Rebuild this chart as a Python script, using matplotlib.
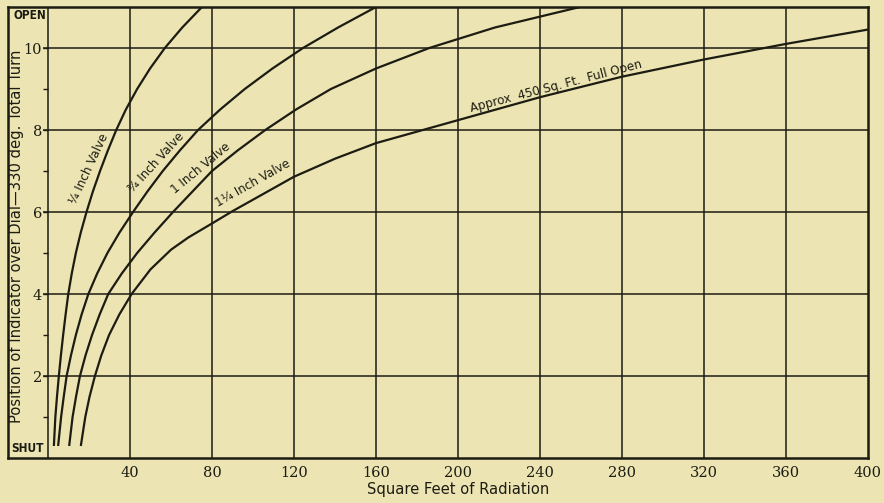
import os
import matplotlib
matplotlib.use("Agg")
import matplotlib.pyplot as plt
from matplotlib import font_manager
from matplotlib.font_manager import FontProperties
from matplotlib import transforms

# Valve opening curves: square feet of radiation vs. dial position (0 = shut, 11 = open)
quarter_x = [2.9, 3.6, 4.4, 5.3, 6.3, 7.4, 8.6, 9.9, 11.6, 13.6, 16.0, 18.8, 21.9,
             25.4, 29.2, 33.3, 38.0, 43.5, 49.8, 57.0, 65.5, 75.1]
quarter_y = [0.32, 1, 1.5, 2, 2.5, 3, 3.5, 4, 4.5, 5, 5.5, 6, 6.5,
             7, 7.5, 8, 8.5, 9, 9.5, 10, 10.5, 11]

three_quarter_x = [5.0, 6.4, 7.7, 9.1, 11.2, 13.6, 16.4, 19.7, 24.0, 29.0, 34.9, 41.5,
                   48.5, 56.0, 64.3, 73.2, 84.0, 96.0, 109.5, 124.4, 141.5, 160.0]
three_quarter_y = [0.32, 1, 1.5, 2, 2.5, 3, 3.5, 4, 4.5, 5, 5.5, 6,
                   6.5, 7, 7.5, 8, 8.5, 9, 9.5, 10, 10.5, 11]

one_x = [10.4, 12.0, 13.7, 15.6, 18.3, 21.5, 25.2, 29.4, 36.0, 43.5, 52.0, 61.0,
         70.5, 80.0, 92.5, 106.0, 121.0, 138.0, 160.0, 186.0, 218.0, 259.5]
one_y = [0.32, 1, 1.5, 2, 2.5, 3, 3.5, 4, 4.5, 5, 5.5, 6,
         6.5, 7, 7.5, 8, 8.5, 9, 9.5, 10, 10.5, 11]

one_quarter_x = [16.1, 18.2, 20.3, 22.9, 26.0, 29.8, 34.8, 40.8, 50.0, 60.0, 68.5,
                 80.0, 90.0, 100, 120, 140, 160, 200, 240, 280, 320, 360, 400]
one_quarter_y = [0.32, 1, 1.5, 2, 2.5, 3, 3.5, 4, 4.6, 5.08, 5.38,
                 5.72, 6.02, 6.3, 6.86, 7.3, 7.68, 8.24, 8.8, 9.3, 9.72, 10.1, 10.45]

x_ticks = [40, 80, 120, 160, 200, 240, 280, 320, 360, 400]
y_ticks = [2, 4, 6, 8, 10]
y_tick_labels = ["2", "4", "6", "8", "10"]

BG = "#ece4b3"
INK = "#1c1c12"


def narrow_font(size, bold=False):
    """Condensed sans face for the lettering, falling back to Roboto."""
    want = "dejavusanscondensed-bold.ttf" if bold else "dejavusanscondensed.ttf"
    for f in font_manager.fontManager.ttflist:
        if os.path.basename(f.fname).lower() == want:
            return FontProperties(fname=f.fname, size=size)
    for f in font_manager.fontManager.ttflist:
        fn = os.path.basename(f.fname).lower()
        if ("narrow" in fn or "condensed" in fn) and "sans" in fn and \
                ("bold" in fn) == bold and "italic" not in fn and "oblique" not in fn:
            return FontProperties(fname=f.fname, size=size)
    return FontProperties(family="Roboto", size=size, weight="bold" if bold else "normal")


serif = FontProperties(family="DejaVu Serif", size=10.5)

fig = plt.figure(figsize=(8.84, 5.03), dpi=100, facecolor=BG)
W, H = 884, 503
ax = fig.add_axes([8 / W, (H - 458) / H, (868 - 8) / W, (458 - 7) / H])
ax.set_facecolor(BG)

X_LEFT = -19.5
ax.set_xlim(X_LEFT, 400)
ax.set_ylim(0, 11)

for s in ax.spines.values():
    s.set_linewidth(1.8)
    s.set_color(INK)

# grid: vertical lines every 40 sq ft, horizontal every 2 divisions
ax.vlines([0] + x_ticks[:-1], 0, 11, color=INK, lw=1.1, zorder=1)
ax.hlines(y_ticks, -2.4, 400, color=INK, lw=1.1, zorder=1)
ax.hlines(range(1, 11), -2.4, 0, color=INK, lw=1.0, zorder=1)

# curves
for xs, ys in [(quarter_x, quarter_y), (three_quarter_x, three_quarter_y),
               (one_x, one_y), (one_quarter_x, one_quarter_y)]:
    ax.plot(xs, ys, color=INK, lw=1.6, solid_joinstyle="round", zorder=3)

# ticks
ax.set_xticks(x_ticks)
ax.set_xticklabels([str(v) for v in x_ticks], fontproperties=serif, color=INK)
ax.tick_params(axis="x", length=0, pad=6)
ax.set_yticks(y_ticks)
ax.set_yticklabels(y_tick_labels, fontproperties=serif, color=INK)
ax.tick_params(axis="y", length=0, pad=-24.5)

# end-of-travel labels in the scale column
ax.text(-16.8, 10.8, "OPEN", fontproperties=narrow_font(8.5, bold=True),
        color=INK, ha="left", va="center")
ax.text(-18.0, 0.22, "SHUT", fontproperties=narrow_font(8.5, bold=True),
        color=INK, ha="left", va="center")

# axis titles
fig.text(17 / W, 1 - 236 / H, "Position of Indicator over Dial\u2014330 deg. Total Turn",
         fontproperties=narrow_font(11.8), color=INK, rotation=90,
         ha="center", va="center")
ax.text(200, 0, "Square Feet of Radiation", fontproperties=narrow_font(11.8),
        color=INK, ha="center", va="top",
        transform=ax.transData + transforms.ScaledTranslation(0, -24 / 100, fig.dpi_scale_trans))

# curve labels
curve_labels = [
    ("\u00bc Inch Valve", 20.0, 7.05, 65),
    ("\u00be Inch Valve", 52.7, 7.2, 47.5),
    ("1 Inch Valve", 74.6, 7.07, 39.5),
    ("1\u00bc Inch Valve", 100.0, 6.7, 29.5),
    ("Approx  450 Sq. Ft.  Full Open", 247.8, 9.07, 14.6),
]
for text, x, y, rot in curve_labels:
    ax.text(x, y, text, fontproperties=narrow_font(9.5), color=INK,
            rotation=rot, rotation_mode="anchor", ha="center", va="center", zorder=4)

fig.savefig("out.png", dpi=100, facecolor=BG)
